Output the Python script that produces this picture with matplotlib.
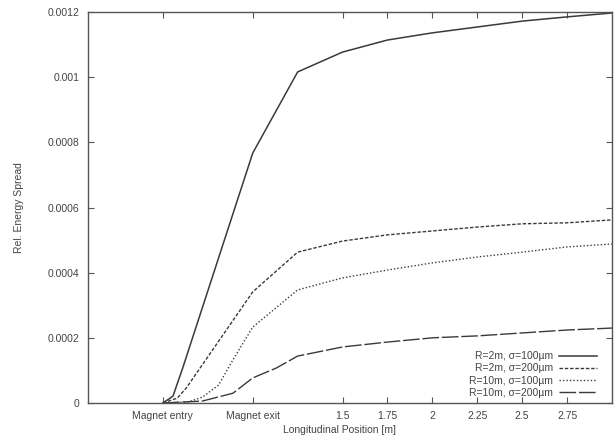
import matplotlib
matplotlib.use("Agg")
import matplotlib.pyplot as plt
from matplotlib.ticker import FixedLocator, FixedFormatter

# Data (longitudinal position [m], relative energy spread)
x_r2_s100 = [0.5, 0.556, 0.61, 1.0, 1.25, 1.5, 1.75, 2.0, 2.25, 2.5, 2.75, 3.0]
y_r2_s100 = [0.0, 0.000021, 0.000107, 0.000767, 0.001016, 0.001077, 0.001114,
             0.001136, 0.001154, 0.001172, 0.001185, 0.001197]

x_r2_s200 = [0.5, 0.58, 0.63, 1.0, 1.25, 1.5, 1.75, 2.0, 2.25, 2.5, 2.75, 3.0]
y_r2_s200 = [0.0, 0.000015, 0.000046, 0.000341, 0.000463, 0.000497, 0.000516,
             0.000528, 0.00054, 0.00055, 0.000553, 0.000562]

x_r10_s100 = [0.5, 0.64, 0.72, 0.81, 0.88, 1.0, 1.25, 1.5, 1.75, 2.0, 2.25, 2.5, 2.75, 3.0]
y_r10_s100 = [0.0, 0.000003, 0.000018, 0.000055, 0.000123, 0.000233, 0.000347,
              0.000384, 0.000408, 0.00043, 0.000448, 0.000463, 0.000479, 0.000488]

x_r10_s200 = [0.5, 0.72, 0.89, 1.0, 1.13, 1.25, 1.5, 1.75, 2.0, 2.25, 2.5, 2.75, 3.0]
y_r10_s200 = [0.0, 0.000006, 0.00003, 0.000077, 0.000107, 0.000144, 0.000172,
              0.000187, 0.0002, 0.000206, 0.000215, 0.000224, 0.00023]

labels = ["R=2m, σ=100µm", "R=2m, σ=200µm", "R=10m, σ=100µm", "R=10m, σ=200µm"]

xtick_pos = [0.5, 1.0, 1.5, 1.75, 2.0, 2.25, 2.5, 2.75]
xtick_labels = ["Magnet entry", "Magnet exit", "1.5", "1.75", "2", "2.25", "2.5", "2.75"]
ytick_pos = [0, 0.0002, 0.0004, 0.0006, 0.0008, 0.001, 0.0012]
ytick_labels = ["0", "0.0002", "0.0004", "0.0006", "0.0008", "0.001", "0.0012"]

plt.rcParams['font.family'] = ['Liberation Sans', 'DejaVu Sans']
txt = '#444444'
lc = '#3a3a3a'

fig = plt.figure(figsize=(6.15, 4.37), dpi=100)
ax = fig.add_axes([88/615, 1-403/437, (612-88)/615, (403-12)/437])

ax.plot(x_r2_s100, y_r2_s100, color=lc, lw=1.1, linestyle='-', label=labels[0])
ax.plot(x_r2_s200, y_r2_s200, color=lc, lw=1.0, linestyle=(0, (2.5, 1.3)), label=labels[1])
ax.plot(x_r10_s100, y_r10_s100, color=lc, lw=1.0, linestyle=(0, (1, 1.5)), label=labels[2])
ax.plot(x_r10_s200, y_r10_s200, color=lc, lw=1.0, linestyle=(0, (12, 2)), label=labels[3])

ax.set_xlim(0.083, 3.0)
ax.set_ylim(0, 0.0012)
ax.xaxis.set_major_locator(FixedLocator(xtick_pos))
ax.xaxis.set_major_formatter(FixedFormatter(xtick_labels))
ax.yaxis.set_major_locator(FixedLocator(ytick_pos))
ax.yaxis.set_major_formatter(FixedFormatter(ytick_labels))
ax.tick_params(direction='in', top=True, right=True, length=4, width=0.8,
               labelsize=7.5, labelcolor=txt, color='#555555', pad=6)
for s in ax.spines.values():
    s.set_color('#555555')
    s.set_linewidth(1.0)

ax.set_xlabel("Longitudinal Position [m]", fontsize=7.5, color=txt, labelpad=1)
ax.xaxis.set_label_coords(0.48, -0.055)
ax.set_ylabel("Rel. Energy Spread", fontsize=7.5, color=txt, labelpad=17)

leg = ax.legend(loc='lower right', bbox_to_anchor=(0.985, -0.005), frameon=False,
                markerfirst=False, fontsize=7.5, handlelength=3.6, handletextpad=0.6,
                labelspacing=0.2, borderpad=0.2)
for t in leg.get_texts():
    t.set_color(txt)
    t.set_ha('right')

fig.savefig("out.png", dpi=100)
